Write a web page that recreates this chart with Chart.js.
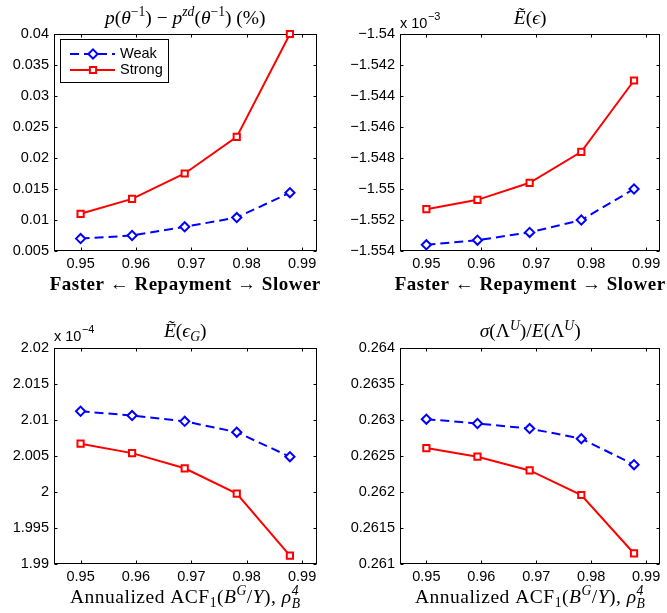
<!DOCTYPE html>
<html><head><meta charset="utf-8">
<script src="https://cdn.jsdelivr.net/npm/chart.js@4/dist/chart.umd.min.js"></script>
<style>
html,body{margin:0;padding:0;background:#fff;}
#wrap{position:relative;width:667px;height:613px;overflow:hidden;background:#fff}
canvas{position:absolute;display:block}
</style></head><body>
<div id="wrap">
<canvas id="c1" width="333" height="306" style="left:0px;top:0px"></canvas>
<canvas id="c2" width="334" height="306" style="left:333px;top:0px"></canvas>
<canvas id="c3" width="333" height="307" style="left:0px;top:306px"></canvas>
<canvas id="c4" width="334" height="307" style="left:333px;top:306px"></canvas>
</div>
<script>
// ---------------- data ----------------
const xValues = [0.95, 0.9593, 0.9688, 0.9782, 0.9878];   // annualized ACF1(B^G/Y)
const xTicks  = [0.95, 0.96, 0.97, 0.98, 0.99];
const seriesNames = ['Weak', 'Strong'];

// p(theta^-1) - p^zd(theta^-1) (%)
const premiumWeak   = [0.0070, 0.0075, 0.0089, 0.0104, 0.0144];
const premiumStrong = [0.0110, 0.0134, 0.0175, 0.0234, 0.0400];
const premiumTicks  = [0.005, 0.01, 0.015, 0.02, 0.025, 0.03, 0.035, 0.04];

// E~(eps)  (x 10^-3)
const epsWeak   = [-1.5536e-3, -1.5533e-3, -1.5528e-3, -1.5520e-3, -1.5500e-3];
const epsStrong = [-1.5513e-3, -1.5507e-3, -1.5496e-3, -1.5476e-3, -1.5430e-3];
const epsTicks  = [-1.554e-3, -1.552e-3, -1.550e-3, -1.548e-3, -1.546e-3, -1.544e-3, -1.542e-3, -1.540e-3];

// E~(eps_G)  (x 10^-4)
const epsGWeak   = [2.0112e-4, 2.0106e-4, 2.0098e-4, 2.0083e-4, 2.0049e-4];
const epsGStrong = [2.0067e-4, 2.0054e-4, 2.0033e-4, 1.9998e-4, 1.9912e-4];
const epsGTicks  = [1.99e-4, 1.995e-4, 2.0e-4, 2.005e-4, 2.01e-4, 2.015e-4, 2.02e-4];

// sigma(Lambda^U)/E(Lambda^U)
const cvWeak   = [0.26301, 0.26295, 0.26288, 0.26274, 0.26238];
const cvStrong = [0.26261, 0.26249, 0.26230, 0.26196, 0.26115];
const cvTicks  = [0.261, 0.2615, 0.262, 0.2625, 0.263, 0.2635, 0.264];

// ---------------- helpers ----------------
const SERIF = '"Liberation Serif","DejaVu Serif",serif';
const SANS = '"Liberation Sans",Arial,sans-serif';
const TICK_SIZE = 14.5;
function fontFor(st, fs){
  if (st === 'i') return 'italic ' + fs + 'px ' + SERIF;
  if (st === 'b') return 'bold ' + fs + 'px ' + SERIF;
  return fs + 'px ' + SERIF;
}
function drawRich(ctx, segs, cx, base, size, spacing){
  ctx.save();
  ctx.letterSpacing = (spacing || 0) + 'px';
  const items = []; let total = 0;
  for (const s of segs){
    const [text, st, pos] = s;
    if (pos === 'stack'){
      const fs = size*0.7; const f = fontFor(st, fs);
      ctx.font = f;
      const w = Math.max(ctx.measureText(text[0]).width, ctx.measureText(text[1]).width);
      items.push({stack:true, sup:text[0], sub:text[1], font:f, w});
      total += w; continue;
    }
    const fs = pos ? size*0.7 : size;
    const f = fontFor(st, fs);
    ctx.font = f;
    const w = ctx.measureText(text).width;
    items.push({text, font:f, w, dy: pos === 'sup' ? -size*0.38 : (pos === 'sub' ? size*0.22 : 0)});
    total += w;
  }
  let x = cx - total/2;
  ctx.fillStyle = '#000'; ctx.textAlign = 'left'; ctx.textBaseline = 'alphabetic';
  for (const it of items){
    ctx.font = it.font;
    if (it.stack){
      ctx.fillText(it.sup, x, base - size*0.42);
      ctx.fillText(it.sub, x, base + size*0.25);
    } else {
      ctx.fillText(it.text, x, base + it.dy);
    }
    x += it.w;
  }
  ctx.restore();
}
function fmtNum(v, factor){
  const s = parseFloat((v/factor).toPrecision(6)).toString();
  return s.replace('-', '\u2212');
}

const titleTop = [['p','i'],['(','r'],['\u03B8','i'],['\u22121','r','sup'],[')','r'],[' \u2212 ','r'],['p','i'],['zd','i','sup'],['(','r'],['\u03B8','i'],['\u22121','r','sup'],[')','r'],[' (%)','r']];
const titleEps = [['\u1EBC','i'],['(','r'],['\u03F5','i'],[')','r']];
const titleEpsG = [['\u1EBC','i'],['(','r'],['\u03F5','i'],['G','i','sub'],[')','r']];
const titleCv = [['\u03C3','i'],['(','r'],['\u039B','r'],['U','i','sup'],[')/','r'],['E','i'],['(','r'],['\u039B','r'],['U','i','sup'],[')','r']];
const xlabTop = [['Faster \u2190 Repayment \u2192 Slower','b']];
const xlabBottom = [['Annualized ACF','r'],['1','r','sub'],['(','r'],['B','i'],['G','i','sup'],['/','r'],['Y','i'],['), ','r'],['\u03C1','i'],[['4','B'],'i','stack']];

const panels = [
  {id:'c1', box:{left:0, top:0, w:333, h:306}, area:{l:54, t:34, r:316.5, b:251},
   ticks:premiumTicks, factor:1, exp:null, title:titleTop, xlab:xlabTop, xlabSize:19, xlabSp:0.5, legend:true,
   weak:premiumWeak, strong:premiumStrong},
  {id:'c2', box:{left:333, top:0, w:334, h:306}, area:{l:400, t:34, r:663, b:251},
   ticks:epsTicks, factor:1e-3, exp:'\u22123', title:titleEps, xlab:xlabTop, xlabSize:19, xlabSp:0.5, legend:false,
   weak:epsWeak, strong:epsStrong},
  {id:'c3', box:{left:0, top:306, w:333, h:307}, area:{l:54, t:347.7, r:316.5, b:564.3},
   ticks:epsGTicks, factor:1e-4, exp:'\u22124', title:titleEpsG, xlab:xlabBottom, xlabSize:19.5, xlabSp:0.5, legend:false,
   weak:epsGWeak, strong:epsGStrong},
  {id:'c4', box:{left:333, top:306, w:334, h:307}, area:{l:400, t:347.7, r:663, b:564.3},
   ticks:cvTicks, factor:1, exp:null, title:titleCv, xlab:xlabBottom, xlabSize:19.5, xlabSp:0.5, legend:false,
   weak:cvWeak, strong:cvStrong}
];

const decoPlugin = {
  id:'deco',
  beforeDatasetsDraw(chart, args, opts){
    const ctx = chart.ctx, a = chart.chartArea;
    const xs = chart.scales.x, ys = chart.scales.y;
    const L = Math.round(a.left)+0.5, R = Math.round(a.right)-0.5, T = Math.round(a.top)+0.5, B = Math.round(a.bottom)-0.5;
    ctx.save();
    ctx.strokeStyle = '#000'; ctx.lineWidth = 1;
    ctx.strokeRect(L, T, R-L, B-T);
    const tl = 3;
    ctx.beginPath();
    for (const t of xs.ticks){
      const px = Math.round(xs.getPixelForValue(t.value)) + 0.5;
      ctx.moveTo(px, B); ctx.lineTo(px, B - tl);
      ctx.moveTo(px, T); ctx.lineTo(px, T + tl);
    }
    for (const t of ys.ticks){
      const py = Math.round(ys.getPixelForValue(t.value)) + 0.5;
      ctx.moveTo(L, py); ctx.lineTo(L + tl, py);
      ctx.moveTo(R, py); ctx.lineTo(R - tl, py);
    }
    ctx.stroke();
    ctx.restore();
  },
  afterDraw(chart, args, opts){
    const p = opts.panel; const ctx = chart.ctx, a = chart.chartArea;
    const cx = (a.left + a.right)/2;
    drawRich(ctx, p.title, cx, a.top - 10.5, 19.5, 0);
    drawRich(ctx, p.xlab, cx, a.bottom + 38.5, p.xlabSize, p.xlabSp);
    if (p.exp){
      ctx.save();
      ctx.fillStyle = '#000'; ctx.textAlign = 'left'; ctx.textBaseline = 'alphabetic';
      ctx.font = TICK_SIZE + 'px ' + SANS;
      const base = 'x 10';
      ctx.fillText(base, a.left, a.top - 6.5);
      const w = ctx.measureText(base).width;
      ctx.font = '11px ' + SANS;
      ctx.fillText(p.exp, a.left + w + 0.5, a.top - 14.5);
      ctx.restore();
    }
    if (p.legend){
      const ds = chart.data.datasets;
      const bx = Math.round(a.left + 6) + 0.5, by = Math.round(a.top + 5) + 0.5, bw = 108, bh = 43;
      ctx.save();
      ctx.fillStyle = '#fff'; ctx.fillRect(bx, by, bw, bh);
      ctx.strokeStyle = '#000'; ctx.lineWidth = 1; ctx.strokeRect(bx, by, bw, bh);
      ds.forEach((d, i) => {
        const y = Math.round(a.top + 20 + i*16);
        ctx.save();
        ctx.strokeStyle = d.borderColor; ctx.lineWidth = d.borderWidth;
        ctx.setLineDash(d.borderDash || []);
        ctx.beginPath(); ctx.moveTo(a.left + 16, y); ctx.lineTo(a.left + 61, y); ctx.stroke();
        ctx.restore();
        ctx.save();
        ctx.fillStyle = d.pointBackgroundColor; ctx.strokeStyle = d.pointBorderColor; ctx.lineWidth = d.pointBorderWidth;
        Chart.helpers.drawPoint(ctx, {pointStyle: d.pointStyle, rotation: 0, radius: d.pointRadius, borderWidth: d.pointBorderWidth},
                                a.left + 39, y);
        ctx.restore();
        ctx.fillStyle = '#000'; ctx.font = TICK_SIZE + 'px ' + SANS; ctx.textBaseline = 'middle'; ctx.textAlign = 'left';
        ctx.fillText(d.label, a.left + 66, y);
      });
      ctx.restore();
    }
  }
};

function makeChart(p){
  const canvas = document.getElementById(p.id);
  const ca = {l: p.area.l - p.box.left, t: p.area.t - p.box.top, r: p.area.r - p.box.left, b: p.area.b - p.box.top};
  const mk = (arr) => xValues.map((x, i) => ({x, y: arr[i]}));
  new Chart(canvas.getContext('2d'), {
    type: 'line',
    data: {
      datasets: [
        {label: seriesNames[0], data: mk(p.weak), borderColor: '#0000ff', borderWidth: 2, borderDash: [9, 5],
         pointStyle: 'rectRot', pointRadius: 4.6, pointBorderWidth: 2, pointBorderColor: '#0000ff',
         pointBackgroundColor: '#ffffff', tension: 0, clip: false, fill: false},
        {label: seriesNames[1], data: mk(p.strong), borderColor: '#ff0000', borderWidth: 2,
         pointStyle: 'rect', pointRadius: 4.4, pointBorderWidth: 2, pointBorderColor: '#ff0000',
         pointBackgroundColor: '#ffffff', tension: 0, clip: false, fill: false}
      ]
    },
    options: {
      responsive: false, animation: false, devicePixelRatio: 1,
      layout: {padding: {top: ca.t, right: p.box.w - ca.r, left: 0, bottom: 0}},
      plugins: {legend: {display: false}, title: {display: false}, tooltip: {enabled: false}, deco: {panel: p}},
      scales: {
        x: {type: 'linear', min: 0.9452, max: 0.9926,
            afterFit(s){ s.height = p.box.h - ca.b; },
            afterBuildTicks(s){ s.ticks = xTicks.map(v => ({value: v})); },
            grid: {display: false, drawTicks: false}, border: {display: false},
            ticks: {padding: 4, color: '#000', font: {family: 'Liberation Sans', size: TICK_SIZE},
                    maxRotation: 0, autoSkip: false, callback: (v) => fmtNum(v, 1)}},
        y: {type: 'linear', min: p.ticks[0], max: p.ticks[p.ticks.length - 1],
            afterFit(s){ s.width = ca.l; },
            afterBuildTicks(s){ s.ticks = p.ticks.map(v => ({value: v})); },
            grid: {display: false, drawTicks: false}, border: {display: false},
            ticks: {padding: 5, color: '#000', font: {family: 'Liberation Sans', size: TICK_SIZE},
                    autoSkip: false, callback: (v) => fmtNum(v, p.factor)}}
      }
    },
    plugins: [decoPlugin]
  });
}
panels.forEach(makeChart);
</script>
</body></html>
